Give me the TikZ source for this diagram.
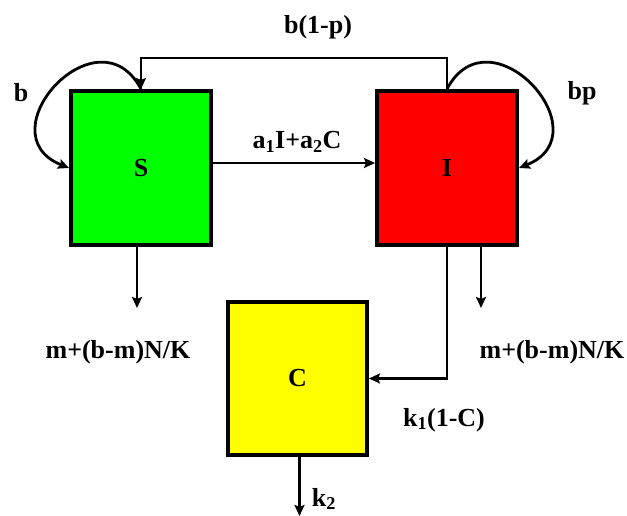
\documentclass[tikz,border=0pt]{standalone}
\usepackage{fontspec}
\setmainfont{Liberation Serif}
\usetikzlibrary{positioning,arrows.meta}
\definecolor{sgreen}{HTML}{00FF00}
\definecolor{ired}{HTML}{FF0000}
\definecolor{cyellow}{HTML}{FFFF00}
\newcommand{\rsub}[1]{\textsubscript{#1}}

\begin{document}
\begin{tikzpicture}[x=1pt,y=1pt,every node/.style={font=\fontsize{26}{30}\selectfont\bfseries},
      compartment/.style={draw=black,line width=4pt,minimum width=140pt,minimum height=154pt,inner sep=0pt},
      flow/.style={-{Stealth[length=11pt,width=10pt,inset=2pt]},line width=2.8pt},
      rate/.style={inner sep=0pt}]
      \useasboundingbox (0,0) rectangle (627,516);
      \node[compartment,fill=sgreen] (S) at (141,348) {S};
      \node[compartment,fill=ired,right=162pt of S] (I) {I};
      \node[compartment,fill=cyellow,minimum width=139pt,minimum height=153pt] (C) at (297.5,137.5) {C};
      \node[rate] (bsp) at (318,489) {b(1-p)};
      \node[rate] (bS) at (21,423) {b};
      \node[rate] (bI) at (582,423) {bp};
      \node[rate] (inf) at (297,374) {a\rsub{1}I+a\rsub{2}C};
      \node[rate] (deathS) at (118,164) {m+(b-m)N/K};
      \node[rate] (deathI) at (552,164) {m+(b-m)N/K};
      \node[rate] (conv) at (444,96) {k\rsub{1}(1-C)};
      \node[rate] (loss) at (324,17) {k\rsub{2}};
      \draw[flow] (I.north) -- ++(0,31) -| (S.north);
      \draw[flow] (S.north) to[out=118,in=158,distance=92pt] (S.west);
      \draw[flow] (I.north) to[out=62,in=22,distance=92pt] (I.east);
      \draw[flow] ([yshift=5pt]S.east) -- ([yshift=5pt]I.west);
      \draw[flow] ([xshift=-4pt]S.south) -- ++(0,-61) coordinate (Sout);
      \draw[flow] ([xshift=34pt]I.south) -- ++(0,-61) coordinate (Iout);
      \draw[flow] (I.south) |- (C.east);
      \draw[flow] ([xshift=2pt]C.south) -- ++(0,-59) coordinate (Cout);
    \end{tikzpicture}
\end{document}
